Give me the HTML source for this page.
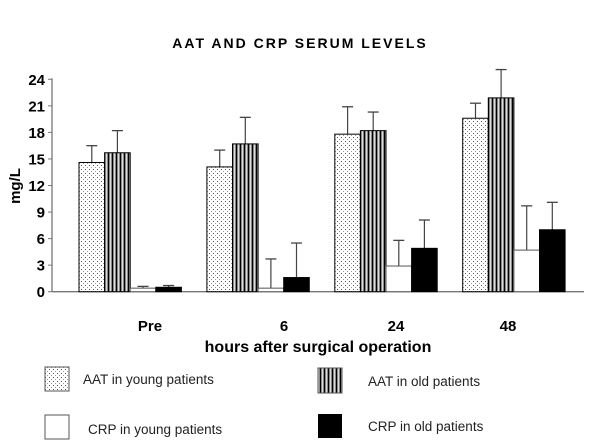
<!DOCTYPE html>
<html><head><meta charset="utf-8"><style>
body{margin:0;background:#fff;width:600px;height:447px;overflow:hidden}
svg{display:block;font-family:"Liberation Sans",Arial,sans-serif}
</style></head><body>
<svg id="chart" width="600" height="447">
<defs>
<pattern id="dots" width="4" height="4" patternUnits="userSpaceOnUse"><rect width="4" height="4" fill="#fff"/><rect x="1" y="1" width="1" height="1" fill="#555"/><rect x="3" y="3" width="1" height="1" fill="#999"/></pattern>
<pattern id="stripes" width="4" height="4" patternUnits="userSpaceOnUse"><rect width="4" height="4" fill="#888"/><rect x="0" width="1" height="4" fill="#000"/><rect x="2" width="1" height="4" fill="#ddd"/></pattern>
</defs>
<text x="300" y="48" text-anchor="middle" font-size="14" font-weight="bold" letter-spacing="2">AAT AND CRP  SERUM LEVELS</text>
<text transform="translate(20,186) rotate(-90)" text-anchor="middle" font-size="15" font-weight="bold">mg/L</text>
<text x="318" y="352" text-anchor="middle" font-size="16" font-weight="bold">hours after surgical operation</text>
<g id="axes"></g><g id="bars"></g>
<g>
<rect x="45" y="367" width="24" height="24" fill="url(#dots)" stroke="#555"/>
<text x="83" y="384" font-size="13.5" fill="#222">AAT in young patients</text>
<rect x="318" y="368" width="24" height="25" fill="url(#stripes)" stroke="#555"/>
<text x="368" y="386" font-size="13.5" fill="#222">AAT in old  patients</text>
<rect x="45" y="415" width="24" height="24" fill="#fff" stroke="#555"/>
<text x="88" y="434" font-size="13.5" fill="#222">CRP in young patients</text>
<rect x="318" y="414" width="24" height="24" fill="#000"/>
<text x="368" y="431" font-size="13.5" fill="#222">CRP in old patients</text>
</g>
</svg>
<script>
const categories=["Pre","6","24","48"];
const aatYoung=[14.6,14.1,17.8,19.6];
const aatYoungErr=[16.5,16.0,20.9,21.3];
const aatOld=[15.7,16.7,18.2,21.9];
const aatOldErr=[18.2,19.7,20.3,25.1];
const crpYoung=[0.4,0.4,2.9,4.7];
const crpYoungErr=[0.6,3.7,5.8,9.7];
const crpOld=[0.5,1.6,4.9,7.0];
const crpOldErr=[0.7,5.5,8.1,10.1];
const yTicks=[0,3,6,9,12,15,18,21,24];
const labelX=[150,284,396,508];

const NS="http://www.w3.org/2000/svg";
function mk(t,a,p){const e=document.createElementNS(NS,t);for(const k in a)e.setAttribute(k,a[k]);p.appendChild(e);return e;}
const y0=291.7,ppu=8.85;
const ys=v=>y0-v*ppu;
const groupX=i=>79+i*127.9;
const bw=25.6;
const axes=document.getElementById('axes'),bars=document.getElementById('bars');
let l=mk('line',{x1:52,y1:ys(24)-1,x2:52,y2:y0,stroke:'#777','stroke-width':1.3},axes);


l=mk('line',{x1:52,y1:y0,x2:584,y2:y0,stroke:'#777','stroke-width':1.3},axes);


yTicks.forEach(v=>{
 mk('line',{x1:48,y1:ys(v),x2:52,y2:ys(v),stroke:'#777'},axes);
 const t=mk('text',{x:45,y:ys(v)+5.5,'text-anchor':'end','font-size':15,'font-weight':'bold'},axes);
 t.textContent=v;
 
 
});
categories.forEach((c,i)=>{
 const t=mk('text',{x:labelX[i],y:331,'text-anchor':'middle','font-size':15,'font-weight':'bold'},axes);
 t.textContent=c;
 
 
});
const series=[[aatYoung,aatYoungErr,'url(#dots)','#000','aat-young'],[aatOld,aatOldErr,'url(#stripes)','#000','aat-old'],[crpYoung,crpYoungErr,'#fff','#555','crp-young'],[crpOld,crpOldErr,'#000','#000','crp-old']];
categories.forEach((c,i)=>{
 series.forEach((s,j)=>{
  const x=groupX(i)+j*bw,v=s[0][i],e=s[1][i],cx=x+bw/2;
  const eb=mk('g',{},bars);
  
  
  const top=Math.max(ys(e),60);
  mk('line',{x1:cx,y1:ys(v),x2:cx,y2:top,stroke:'#444','stroke-width':1.2},eb);
  if(ys(e)>60) mk('line',{x1:cx-5.5,y1:top,x2:cx+5.5,y2:top,stroke:'#444','stroke-width':1.3},eb);
  const r=mk('rect',{x:x,y:ys(v),width:bw,height:y0-ys(v),fill:s[2],stroke:s[3],'stroke-width':1},bars);
  
  
 });
});
</script>
</body></html>
